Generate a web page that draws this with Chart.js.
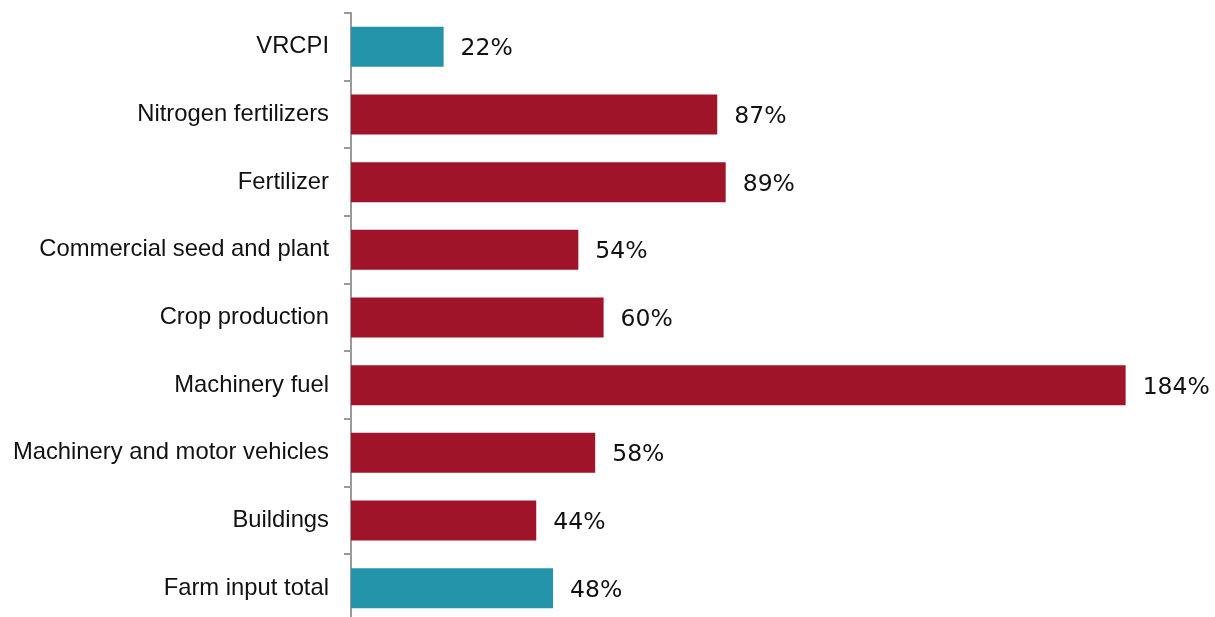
<!DOCTYPE html>
<html>
<head>
<meta charset="utf-8">
<script src="https://cdn.jsdelivr.net/npm/chart.js@4/dist/chart.umd.min.js"></script>
<style>
  html, body { margin: 0; padding: 0; background: #fff; overflow: hidden; }
  #wrap { position: relative; width: 1215px; height: 623px; }
</style>
</head>
<body>
<div id="wrap"><canvas id="grafico-insumos"></canvas></div>
<script>
const categorias = [
    'VRCPI',
    'Nitrogen fertilizers',
    'Fertilizer',
    'Commercial seed and plant',
    'Crop production',
    'Machinery fuel',
    'Machinery and motor vehicles',
    'Buildings',
    'Farm input total'
];
const variacao = [22, 87, 89, 54, 60, 184, 58, 44, 48];
const referencias = ['VRCPI', 'Farm input total'];

const TEAL = '#2394AA';
const VERMELHO = '#A01429';

// writes the "NN%" label just past the end of each bar
const rotulosBarras = {
    id: 'rotulosBarras',
    afterDatasetsDraw(chart) {
        const c = chart.ctx;
        const meta = chart.getDatasetMeta(0);
        c.save();
        c.font = '23.5px "DejaVu Sans"';
        c.fillStyle = '#111';
        c.textAlign = 'left';
        c.textBaseline = 'middle';
        meta.data.forEach((bar, i) => {
            c.fillText(variacao[i] + '%', bar.x + 17, bar.y + 2.5);
        });
        c.restore();
    }
};

const ctx = document.getElementById('grafico-insumos').getContext('2d');
const graficoInsumos = new Chart(ctx, {
    type: 'bar',
    data: {
        labels: categorias,
        datasets: [{
            data: variacao,
            backgroundColor: categorias.map(c => referencias.includes(c) ? TEAL : VERMELHO),
            borderWidth: 0,
            barPercentage: 0.59,
            categoryPercentage: 1
        }]
    },
    plugins: [rotulosBarras],
    options: {
        indexAxis: 'y',
        responsive: true,
        maintainAspectRatio: false,
        animation: false,
        layout: {
            padding: { top: 13, bottom: 1, left: 12, right: 22 }
        },
        plugins: {
            legend: { display: false },
            tooltip: { enabled: false }
        },
        scales: {
            x: {
                display: false,
                min: 0,
                max: 200
            },
            y: {
                afterFit: s => {
                    s.width = 339;
                    s.paddingTop = 0;
                    s.paddingBottom = 0;
                },
                grid: {
                    drawOnChartArea: false,
                    drawTicks: true,
                    tickLength: 7,
                    color: '#999',
                    lineWidth: 2,
                    offset: true
                },
                border: { color: '#999', width: 2 },
                ticks: {
                    autoSkip: false,
                    padding: 15,
                    color: '#111',
                    font: { family: '"Liberation Sans", Arial', size: 23.8 }
                }
            }
        }
    }
});
</script>
</body>
</html>
